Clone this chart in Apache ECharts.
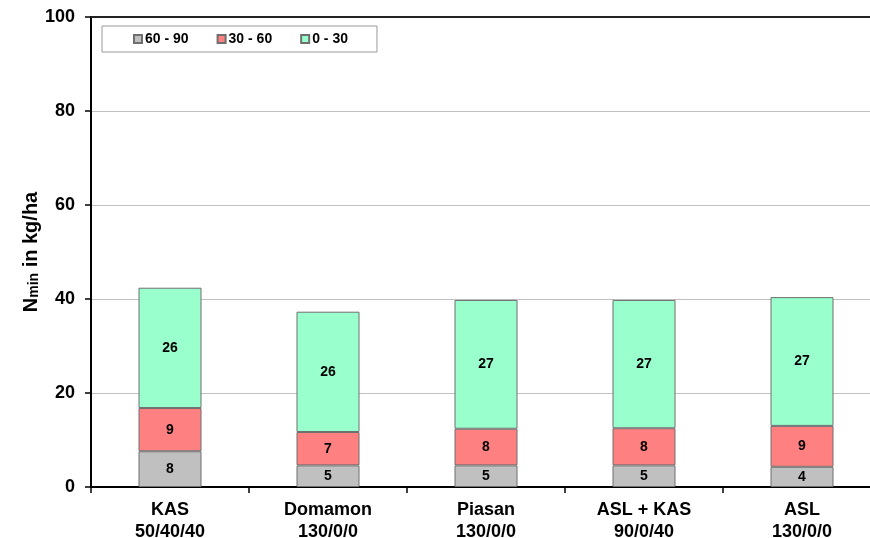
<!DOCTYPE html>
<html>
<head>
<meta charset="utf-8">
<script src="https://cdn.jsdelivr.net/npm/echarts@6/dist/echarts.min.js"></script>
<style>
  html, body { margin: 0; padding: 0; background: #fff; }
  #chart { width: 870px; height: 538px; }
</style>
</head>
<body>
<div id="chart"></div>
<script>
// Fertiliser variants (name + N rate split)
var categories = ['KAS\n50/40/40', 'Domamon\n130/0/0', 'Piasan\n130/0/0', 'ASL + KAS\n90/0/40', 'ASL\n130/0/0'];

// Nmin (kg/ha) per soil layer, stacked from the deepest layer up
var layer60to90 = [7.6, 4.6, 4.6, 4.6, 4.3];
var layer30to60 = [9.2, 7.1, 7.8, 7.9, 8.7];
var layer0to30  = [25.6, 25.6, 27.4, 27.3, 27.4];

var seriesNames = ['60 - 90', '30 - 60', '0 - 30'];
var seriesColors = ['#c0c0c0', '#ff8080', '#99ffcc'];

var yTicks = { min: 0, max: 100, interval: 20 };

var FONT = '"Liberation Sans", Arial, sans-serif';

function stackSeries(name, data, color) {
  return {
    name: name,
    type: 'bar',
    stack: 'nmin',
    data: data,
    barWidth: 63,
    itemStyle: { color: color, borderColor: '#6f6f6f', borderWidth: 1 },
    label: {
      show: true,
      position: 'inside',
      color: '#000',
      fontFamily: FONT,
      fontWeight: 'bold',
      fontSize: 14,
      formatter: function (p) { return Math.round(p.value); }
    }
  };
}

var chart = echarts.init(document.getElementById('chart'), null, { renderer: 'canvas' });

chart.setOption({
  animation: false,
  backgroundColor: '#fff',
  grid: { left: 91, top: 17, width: 790, height: 470, containLabel: false, outerBoundsMode: 'none' },
  legend: {
    left: 102,
    top: 26,
    data: seriesNames,
    icon: 'rect',
    itemWidth: 8,
    itemHeight: 8,
    itemGap: 28,
    padding: [6, 29, 6, 31],
    borderColor: '#999',
    borderWidth: 1,
    backgroundColor: '#fff',
    textStyle: { fontFamily: FONT, fontWeight: 'bold', fontSize: 14, color: '#000', padding: [0, 0, 0, -2] }
  },
  xAxis: [{
    type: 'category',
    data: categories,
    axisLine: { lineStyle: { color: '#000', width: 2 } },
    axisTick: { show: true, length: 6, lineStyle: { color: '#000', width: 1.5 } },
    axisLabel: {
      margin: 12,
      color: '#000',
      fontFamily: FONT,
      fontWeight: 'bold',
      fontSize: 18,
      lineHeight: 22
    }
  }, {
    type: 'category',
    position: 'top',
    data: categories,
    axisLine: { lineStyle: { color: '#222', width: 2 } },
    axisTick: { show: false },
    axisLabel: { show: false }
  }],
  yAxis: {
    type: 'value',
    min: yTicks.min,
    max: yTicks.max,
    interval: yTicks.interval,
    name: '{a|N}{b|min}{a| in kg/ha}',
    nameLocation: 'middle',
    nameGap: 50,
    nameMoveOverlap: false,
    nameRotate: 90,
    nameTextStyle: {
      rich: {
        a: { fontFamily: FONT, fontWeight: 'bold', fontSize: 20, color: '#000', lineHeight: 24, verticalAlign: 'bottom' },
        b: { fontFamily: FONT, fontWeight: 'bold', fontSize: 14, color: '#000', lineHeight: 24, verticalAlign: 'bottom', padding: [7, 0, 0, 0] }
      }
    },
    axisLine: { show: true, lineStyle: { color: '#000', width: 2 } },
    axisTick: { show: true, length: 6, lineStyle: { color: '#000', width: 1.5 } },
    axisLabel: {
      margin: 16,
      color: '#000',
      fontFamily: FONT,
      fontWeight: 'bold',
      fontSize: 18
    },
    splitLine: { show: true, lineStyle: { color: '#c0c0c0', width: 1 } }
  },
  series: [
    stackSeries(seriesNames[0], layer60to90, seriesColors[0]),
    stackSeries(seriesNames[1], layer30to60, seriesColors[1]),
    stackSeries(seriesNames[2], layer0to30, seriesColors[2])
  ]
});
</script>
</body>
</html>
